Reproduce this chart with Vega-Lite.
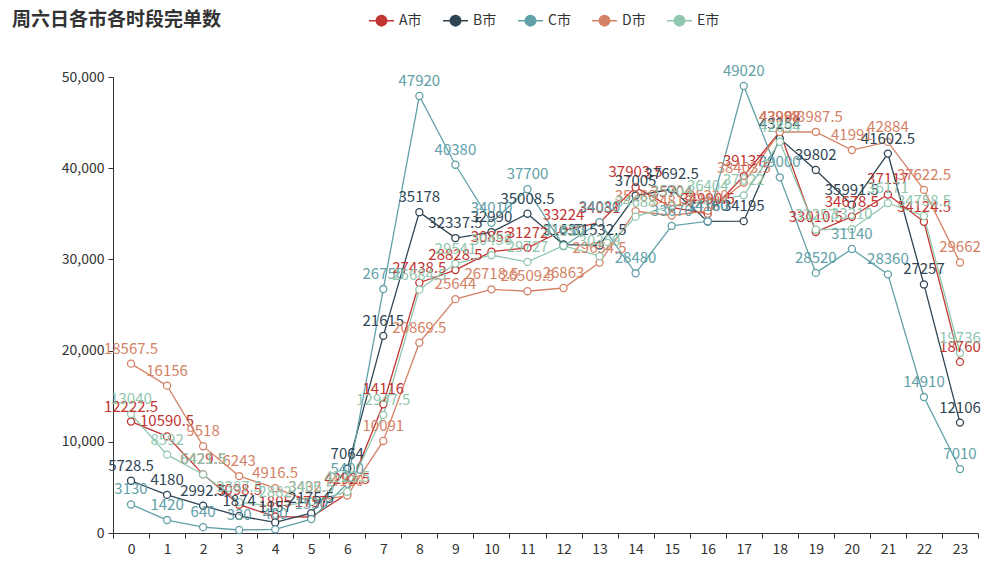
{
  "$schema": "https://vega.github.io/schema/vega-lite/v6.json",
  "autosize": {"type": "none"},
  "padding": {"left": 113, "top": 77, "right": 10, "bottom": 37},
  "width": 865,
  "height": 456,
  "title": {
    "text": "周六日各市各时段完单数",
    "anchor": "start",
    "frame": "group",
    "dx": -101,
    "offset": -23,
    "fontSize": 19,
    "fontWeight": "bold",
    "color": "#333",
    "font": "Noto Sans CJK SC"
  },
  "config": {
    "view": {"stroke": null},
    "font": "Noto Sans CJK SC"
  },
  "data": {
    "values": [
      {"city":"A市","hour":0,"v":12222.5},{"city":"A市","hour":1,"v":10590.5},{"city":"A市","hour":2,"v":6429.5},{"city":"A市","hour":3,"v":3098.5},{"city":"A市","hour":4,"v":1805},{"city":"A市","hour":5,"v":1757},{"city":"A市","hour":6,"v":4292.5},{"city":"A市","hour":7,"v":14116},{"city":"A市","hour":8,"v":27438.5},{"city":"A市","hour":9,"v":28828.5},{"city":"A市","hour":10,"v":30852},{"city":"A市","hour":11,"v":31272},{"city":"A市","hour":12,"v":33224},{"city":"A市","hour":13,"v":34031},{"city":"A市","hour":14,"v":37903.5},{"city":"A市","hour":15,"v":35704},{"city":"A市","hour":16,"v":34990.5},{"city":"A市","hour":17,"v":39137},{"city":"A市","hour":18,"v":43998},{"city":"A市","hour":19,"v":33010.5},{"city":"A市","hour":20,"v":34678.5},{"city":"A市","hour":21,"v":37117},{"city":"A市","hour":22,"v":34124.5},{"city":"A市","hour":23,"v":18760},
      {"city":"B市","hour":0,"v":5728.5},{"city":"B市","hour":1,"v":4180},{"city":"B市","hour":2,"v":2992.5},{"city":"B市","hour":3,"v":1874},{"city":"B市","hour":4,"v":1157},{"city":"B市","hour":5,"v":2175.5},{"city":"B市","hour":6,"v":7064},{"city":"B市","hour":7,"v":21615},{"city":"B市","hour":8,"v":35178},{"city":"B市","hour":9,"v":32337.5},{"city":"B市","hour":10,"v":32990},{"city":"B市","hour":11,"v":35008.5},{"city":"B市","hour":12,"v":31630},{"city":"B市","hour":13,"v":31532.5},{"city":"B市","hour":14,"v":37005},{"city":"B市","hour":15,"v":37692.5},{"city":"B市","hour":16,"v":34160},{"city":"B市","hour":17,"v":34195},{"city":"B市","hour":18,"v":43254},{"city":"B市","hour":19,"v":39802},{"city":"B市","hour":20,"v":35991.5},{"city":"B市","hour":21,"v":41602.5},{"city":"B市","hour":22,"v":27257},{"city":"B市","hour":23,"v":12106},
      {"city":"C市","hour":0,"v":3130},{"city":"C市","hour":1,"v":1420},{"city":"C市","hour":2,"v":640},{"city":"C市","hour":3,"v":330},{"city":"C市","hour":4,"v":400},{"city":"C市","hour":5,"v":1530},{"city":"C市","hour":6,"v":5400},{"city":"C市","hour":7,"v":26750},{"city":"C市","hour":8,"v":47920},{"city":"C市","hour":9,"v":40380},{"city":"C市","hour":10,"v":34010},{"city":"C市","hour":11,"v":37700},{"city":"C市","hour":12,"v":31450},{"city":"C市","hour":13,"v":34080},{"city":"C市","hour":14,"v":28480},{"city":"C市","hour":15,"v":33670},{"city":"C市","hour":16,"v":34180},{"city":"C市","hour":17,"v":49020},{"city":"C市","hour":18,"v":39000},{"city":"C市","hour":19,"v":28520},{"city":"C市","hour":20,"v":31140},{"city":"C市","hour":21,"v":28360},{"city":"C市","hour":22,"v":14910},{"city":"C市","hour":23,"v":7010},
      {"city":"D市","hour":0,"v":18567.5},{"city":"D市","hour":1,"v":16156},{"city":"D市","hour":2,"v":9518},{"city":"D市","hour":3,"v":6243},{"city":"D市","hour":4,"v":4916.5},{"city":"D市","hour":5,"v":3432.5},{"city":"D市","hour":6,"v":4100},{"city":"D市","hour":7,"v":10091},{"city":"D市","hour":8,"v":20869.5},{"city":"D市","hour":9,"v":25644},{"city":"D市","hour":10,"v":26718.5},{"city":"D市","hour":11,"v":26509.5},{"city":"D市","hour":12,"v":26863},{"city":"D市","hour":13,"v":29654.5},{"city":"D市","hour":14,"v":35280},{"city":"D市","hour":15,"v":34813},{"city":"D市","hour":16,"v":35330},{"city":"D市","hour":17,"v":38403.5},{"city":"D市","hour":18,"v":43967},{"city":"D市","hour":19,"v":43987.5},{"city":"D市","hour":20,"v":41991},{"city":"D市","hour":21,"v":42884},{"city":"D市","hour":22,"v":37622.5},{"city":"D市","hour":23,"v":29662},
      {"city":"E市","hour":0,"v":13040},{"city":"E市","hour":1,"v":8592},{"city":"E市","hour":2,"v":6421.5},{"city":"E市","hour":3,"v":3387.5},{"city":"E市","hour":4,"v":2882},{"city":"E市","hour":5,"v":3406.5},{"city":"E市","hour":6,"v":4523.5},{"city":"E市","hour":7,"v":12947.5},{"city":"E市","hour":8,"v":26684.5},{"city":"E市","hour":9,"v":29541},{"city":"E市","hour":10,"v":30456},{"city":"E市","hour":11,"v":29727},{"city":"E市","hour":12,"v":31510},{"city":"E市","hour":13,"v":30359},{"city":"E市","hour":14,"v":34688},{"city":"E市","hour":15,"v":35904},{"city":"E市","hour":16,"v":36404},{"city":"E市","hour":17,"v":37022},{"city":"E市","hour":18,"v":42894},{"city":"E市","hour":19,"v":33257},{"city":"E市","hour":20,"v":33310},{"city":"E市","hour":21,"v":36171},{"city":"E市","hour":22,"v":34758.5},{"city":"E市","hour":23,"v":19736}
    ]
  },
  "encoding": {
    "x": {
      "field": "hour",
      "type": "ordinal",
      "scale": {"type": "band", "paddingInner": 0, "paddingOuter": 0},
      "axis": {
        "title": null,
        "labelAngle": 0,
        "tickBand": "extent",
        "domainColor": "#333",
        "tickColor": "#333",
        "tickSize": 5,
        "labelColor": "#333",
        "labelFontSize": 14,
        "labelPadding": 4,
        "grid": false
      }
    },
    "y": {
      "field": "v",
      "type": "quantitative",
      "scale": {"domain": [0, 50000], "nice": false},
      "axis": {
        "title": null,
        "values": [0, 10000, 20000, 30000, 40000, 50000],
        "labelExpr": "format(datum.value, ',')",
        "domainColor": "#333",
        "tickColor": "#333",
        "tickSize": 5,
        "labelColor": "#333",
        "labelFontSize": 14,
        "labelPadding": 4,
        "grid": false
      }
    },
    "color": {
      "field": "city",
      "type": "nominal",
      "scale": {
        "domain": ["A市", "B市", "C市", "D市", "E市"],
        "range": ["#c23531", "#2f4554", "#61a0a8", "#d48265", "#91c7ae"]
      },
      "legend": {
        "title": null,
        "orient": "none",
        "direction": "horizontal",
        "legendX": 255,
        "legendY": -70,
        "symbolType": "M-1,0H-0.42M0.42,0H1M-0.42,0A0.42,0.42 0 1,1 0.42,0A0.42,0.42 0 1,1 -0.42,0Z",
        "symbolSize": 625,
        "symbolStrokeWidth": 1.5,
        "symbolFillColor": "white",
        "labelFontSize": 14,
        "labelColor": "#333",
        "labelOffset": 4,
        "columnPadding": 18
      }
    }
  },
  "layer": [
    {"mark": {"type": "line", "strokeWidth": 1.3}},
    {"mark": {"type": "point", "filled": true, "fill": "white", "strokeWidth": 1.3, "size": 50, "shape": "circle", "opacity": 1}, "encoding": {"stroke": {"field": "city", "type": "nominal", "legend": null, "scale": {"domain": ["A市", "B市", "C市", "D市", "E市"], "range": ["#c23531", "#2f4554", "#61a0a8", "#d48265", "#91c7ae"]}}}},
    {"mark": {"type": "text", "dy": -10, "fontSize": 15, "baseline": "alphabetic"}, "encoding": {"text": {"field": "v", "type": "quantitative", "format": "~f"}}}
  ]
}
